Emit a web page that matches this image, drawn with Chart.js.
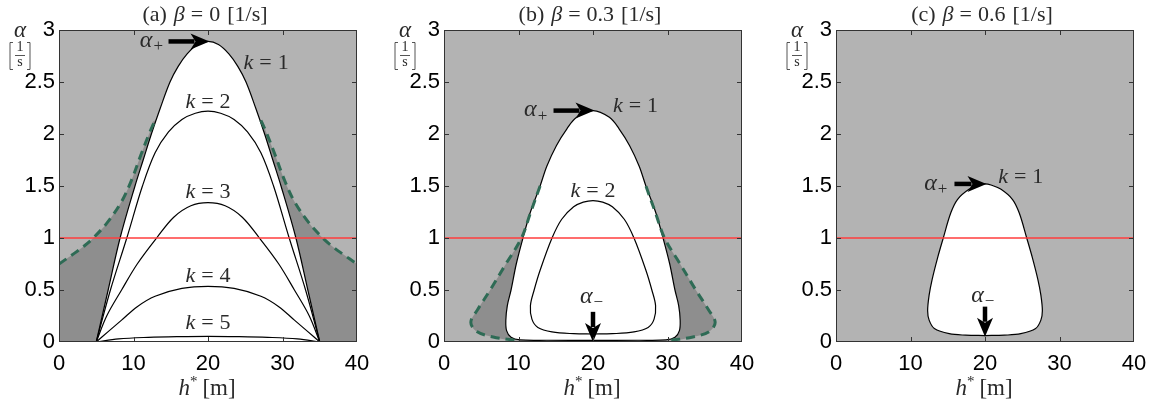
<!DOCTYPE html>
<html lang="en">
<head>
  <meta charset="UTF-8" />
  <title>Stability regions</title>
  <script src="https://cdn.jsdelivr.net/npm/chart.js"></script>
  <style>
    body { margin: 0; background: #fff; width: 1164px; height: 406px; overflow: hidden; position: relative; }
    canvas { position: absolute; top: 0; }
  </style>
</head>
<body>
  <canvas id="chartA" width="390" height="406" style="left:0px"></canvas>
  <canvas id="chartB" width="390" height="406" style="left:385px"></canvas>
  <canvas id="chartC" width="390" height="406" style="left:777px"></canvas>
  <script>
    // axes
    const xTicks = [0, 10, 20, 30, 40];
    const yTicks = [0, 0.5, 1, 1.5, 2, 2.5, 3];
    const yTickLabels = ['0', '0.5', '1', '1.5', '2', '2.5', '3'];
    const refLine = [[0, 1], [40, 1]];

    // (a) beta = 0, curves [h*, alpha]
    const a_k1 = [[5,0],[6.6,0.5],[8.2,1.0],[10.2,1.5],[11.3,1.75],[12.4,2.0],[13.6,2.25],[14.9,2.5],[16.0,2.65],[17.2,2.77],[18.6,2.86],[20,2.89],
                  [21.4,2.86],[22.8,2.77],[24.0,2.65],[25.1,2.5],[26.4,2.25],[27.6,2.0],[28.7,1.75],[29.8,1.5],[31.8,1.0],[33.4,0.5],[35,0]];
    const a_k2 = [[5,0],[6.9,0.5],[9.1,1.0],[11.2,1.5],[12.9,1.82],[14.7,2.02],[16.5,2.14],[18.3,2.2],[20,2.22],
                  [21.7,2.2],[23.5,2.14],[25.3,2.02],[27.1,1.82],[28.8,1.5],[30.9,1.0],[33.1,0.5],[35,0]];
    const a_k3 = [[5,0],[6.4,0.25],[8.4,0.5],[10.5,0.75],[13.1,1.0],[15.4,1.2],[17.7,1.31],[20,1.34],
                  [22.3,1.31],[24.6,1.2],[26.9,1.0],[29.5,0.75],[31.6,0.5],[33.6,0.25],[35,0]];
    const a_k4 = [[5,0],[6.6,0.1],[8.4,0.21],[10.5,0.34],[12.9,0.44],[16.5,0.515],[20,0.535],
                  [23.5,0.515],[27.1,0.44],[29.5,0.34],[31.6,0.21],[33.4,0.1],[35,0]];
    const a_k5 = [[5,0],[8,0.03],[12,0.045],[16,0.052],[20,0.055],[24,0.052],[28,0.045],[32,0.03],[35,0]];
    const a_dashLeft = [[0,0.75],[2,0.85],[3.5,0.93],[4.6,1.0],[6.5,1.15],[8.4,1.35],[9.7,1.55],[11.0,1.8],[12.2,2.02],[12.9,2.13]];
    const a_dashRight = [[27.1,2.13],[27.8,2.02],[29.0,1.8],[30.3,1.55],[31.6,1.35],[33.5,1.15],[35.4,1.0],[36.5,0.93],[38,0.85],[40,0.75]];

    // (b) beta = 0.3
    const b_k1 = [[20,0.015],[14,0.017],[10.2,0.02],[9.0,0.045],[8.4,0.11],[8.3,0.21],[8.5,0.35],[9.0,0.5],[9.7,0.75],[10.6,1.0],[11.6,1.25],[12.9,1.5],
                  [13.8,1.69],[15.1,1.89],[16.5,2.05],[17.8,2.16],[20,2.225],[22.2,2.16],[23.5,2.05],[24.9,1.89],[26.2,1.69],[27.1,1.5],
                  [28.4,1.25],[29.4,1.0],[30.3,0.75],[31.0,0.5],[31.5,0.35],[31.7,0.21],[31.6,0.11],[31.0,0.045],[29.8,0.02],[26,0.017],[20,0.015]];
    const b_k2 = [[20,0.077],[17.4,0.08],[14.5,0.097],[12.6,0.14],[11.8,0.22],[11.6,0.35],[12.1,0.5],[12.9,0.69],[14.5,1.0],[15.8,1.18],[17.4,1.3],[18.7,1.345],[20,1.36],
                  [21.3,1.345],[22.6,1.3],[24.2,1.18],[25.5,1.0],[27.1,0.69],[27.9,0.5],[28.4,0.35],[28.2,0.22],[27.4,0.14],[25.5,0.097],[22.6,0.08],[20,0.077]];
    const b_dashLeft = [[12.9,1.5],[11.6,1.24],[10.4,1.0],[8.3,0.75],[6.2,0.5],[4.5,0.31],[3.6,0.19],[4.4,0.1],[6.6,0.048],[9.5,0.016]];
    const b_dashRight = [[30.5,0.016],[33.4,0.048],[35.6,0.1],[36.4,0.19],[35.5,0.31],[33.8,0.5],[31.7,0.75],[29.6,1.0],[28.4,1.24],[27.1,1.5]];

    // (c) beta = 0.6
    const c_k1 = [[20,0.062],[17.4,0.066],[15.2,0.08],[13.2,0.13],[12.5,0.21],[12.3,0.3],[12.5,0.45],[12.9,0.6],[13.6,0.8],[14.4,1.0],[15.4,1.24],[16.3,1.37],[17.9,1.47],[19.2,1.51],[20,1.52],
                  [20.8,1.51],[22.1,1.47],[23.7,1.37],[24.6,1.24],[25.6,1.0],[26.4,0.8],[27.1,0.6],[27.5,0.45],[27.7,0.3],[27.5,0.21],[26.8,0.13],[24.8,0.08],[22.6,0.066],[20,0.062]];

    // arrows [from, to] and text labels [h*, alpha]
    const a_arrows = [[[14.7, 2.89], [20.2, 2.89]]];
    const b_arrows = [[[14.7, 2.225], [20.2, 2.225]], [[20, 0.29], [20, 0.0]]];
    const c_arrows = [[[15.9, 1.52], [20.2, 1.52]], [[20, 0.34], [20, 0.05]]];
    const a_kLabels = [['1', 27.8, 2.68], ['2', 20, 2.31], ['3', 20, 1.44], ['4', 20, 0.63], ['5', 20, 0.18]];
    const b_kLabels = [['1', 25.7, 2.27], ['2', 20, 1.45]];
    const c_kLabels = [['1', 24.8, 1.58]];
    const a_alphaLabels = [['+', 12.4, 2.9]];
    const b_alphaLabels = [['+', 12.3, 2.23], ['\u2212', 19.8, 0.44]];
    const c_alphaLabels = [['+', 13.4, 1.52], ['\u2212', 19.7, 0.45]];

    const LIGHT = '#b3b3b3', DARK = '#8e8e8e', GREEN = '#2e6b55', TXT = '#2a2a2a';
    const SERIF = '"Liberation Serif", "DejaVu Serif", serif';
    const SANS = '"Liberation Sans", Arial, sans-serif';

    function pts(list) { return list.map(p => ({ x: p[0], y: p[1] })); }

    // parts: [text, font, dy] or a number (gap in px)
    function richText(ctx, parts, x, y) {
      let w = 0;
      parts.forEach(p => {
        if (typeof p === 'number') { w += p; return; }
        ctx.font = p[1]; w += ctx.measureText(p[0]).width;
      });
      let cx = x - w / 2;
      parts.forEach(p => {
        if (typeof p === 'number') { cx += p; return; }
        ctx.font = p[1];
        ctx.fillText(p[0], cx, y + (p[2] || 0));
        cx += ctx.measureText(p[0]).width;
      });
    }

    const panelPlugin = {
      id: 'panel',
      beforeDatasetsDraw(chart) {
        const { ctx, chartArea: a } = chart;
        ctx.save();
        ctx.fillStyle = LIGHT;
        ctx.fillRect(a.left, a.top, a.right - a.left, a.bottom - a.top);
        ctx.restore();
      },
      afterDatasetsDraw(chart, args, opts) {
        const { ctx, scales: { x, y } } = chart;
        ctx.save();
        // arrows
        ctx.fillStyle = '#000';
        ctx.strokeStyle = '#000';
        (opts.arrows || []).forEach(([p0, p1]) => {
          const x0 = x.getPixelForValue(p0[0]), y0 = y.getPixelForValue(p0[1]);
          const x1 = x.getPixelForValue(p1[0]), y1 = y.getPixelForValue(p1[1]);
          const ang = Math.atan2(y1 - y0, x1 - x0);
          const hl = 19, hw = 8;
          const bx = x1 - Math.cos(ang) * hl, by = y1 - Math.sin(ang) * hl;
          ctx.lineWidth = 4.5;
          ctx.beginPath();
          ctx.moveTo(x0, y0);
          ctx.lineTo(bx + Math.cos(ang) * 4, by + Math.sin(ang) * 4);
          ctx.stroke();
          ctx.beginPath();
          ctx.moveTo(x1, y1);
          ctx.lineTo(bx - Math.sin(ang) * hw, by + Math.cos(ang) * hw);
          ctx.lineTo(bx + Math.cos(ang) * 5, by + Math.sin(ang) * 5);
          ctx.lineTo(bx + Math.sin(ang) * hw, by - Math.cos(ang) * hw);
          ctx.closePath();
          ctx.fill();
        });
        // labels
        ctx.fillStyle = TXT;
        ctx.textBaseline = 'middle';
        (opts.kLabels || []).forEach(([n, h, v]) => {
          richText(ctx, [['k', 'italic 22px ' + SERIF], 6, ['=', '22px ' + SERIF], 6, [n, '22px ' + SERIF]],
            x.getPixelForValue(h), y.getPixelForValue(v));
        });
        (opts.alphaLabels || []).forEach(([s, h, v]) => {
          richText(ctx, [['\u03b1', 'italic 24px ' + SERIF], 1, [s, '17px ' + SERIF, 6]],
            x.getPixelForValue(h), y.getPixelForValue(v));
        });
        ctx.restore();
      },
      afterDraw(chart, args, opts) {
        const { ctx, chartArea: a, scales: { x, y } } = chart;
        ctx.save();
        // frame with inward ticks
        ctx.strokeStyle = '#333';
        ctx.lineWidth = 1;
        ctx.strokeRect(a.left + 0.5, a.top + 0.5, a.right - a.left - 1, a.bottom - a.top - 1);
        ctx.beginPath();
        xTicks.slice(1, -1).forEach(v => {
          const px = Math.round(x.getPixelForValue(v)) + 0.5;
          ctx.moveTo(px, a.bottom); ctx.lineTo(px, a.bottom - 5);
          ctx.moveTo(px, a.top); ctx.lineTo(px, a.top + 5);
        });
        yTicks.slice(1, -1).forEach(v => {
          const py = Math.round(y.getPixelForValue(v)) + 0.5;
          ctx.moveTo(a.left, py); ctx.lineTo(a.left + 5, py);
          ctx.moveTo(a.right, py); ctx.lineTo(a.right - 5, py);
        });
        ctx.stroke();
        // title
        const cx = (a.left + a.right) / 2;
        ctx.fillStyle = TXT;
        ctx.textBaseline = 'alphabetic';
        richText(ctx, [['(' + opts.tag + ')', '22px ' + SERIF], 7, ['\u03b2', 'italic 22px ' + SERIF], 6,
          ['=', '22px ' + SERIF], 6, [opts.beta, '22px ' + SERIF], 7, ['[1/s]', '22px ' + SERIF]], cx - 3, 21);
        // x axis label
        richText(ctx, [['h', 'italic 23px ' + SERIF], ['*', '15px ' + SERIF, -9], 5, ['[m]', '23px ' + SERIF]], cx - 1, 395);
        // y axis label: alpha over [1/s]
        const lx = a.left - 39;
        richText(ctx, [['\u03b1', 'italic 23px ' + SERIF]], lx, 37);
        ctx.font = '14px ' + SERIF;
        ctx.textAlign = 'center';
        ctx.fillText('1', lx, 51);
        ctx.fillText('s', lx, 66);
        ctx.textAlign = 'left';
        ctx.beginPath();
        ctx.lineWidth = 0.8;
        ctx.moveTo(lx - 5, 55.5); ctx.lineTo(lx + 5, 55.5);
        // brackets
        [[lx - 10, 1], [lx + 10, -1]].forEach(([bx, d]) => {
          ctx.moveTo(bx + 3 * d, 42.5); ctx.lineTo(bx, 42.5); ctx.lineTo(bx, 69.5); ctx.lineTo(bx + 3 * d, 69.5);
        });
        ctx.strokeStyle = TXT;
        ctx.stroke();
        ctx.restore();
      }
    };

    function curve(list, extra) {
      return Object.assign({ data: pts(list), borderColor: '#000', borderWidth: 1.2, fill: false, tension: 0.35 }, extra);
    }
    function dark(list, fillMode) {
      return { data: pts(list), borderWidth: 0, borderColor: 'rgba(0,0,0,0)', backgroundColor: DARK, fill: fillMode, tension: 0.35, order: 20 };
    }
    function dashed(list) {
      return curve(list, { borderColor: GREEN, borderWidth: 3, borderDash: [9, 6], order: 6 });
    }
    function redLine() {
      return curve(refLine, { borderColor: '#ff3c3c', borderWidth: 1.5, tension: 0, order: 1 });
    }

    function makeChart(id, datasets, panel) {
      return new Chart(document.getElementById(id), {
        type: 'line',
        data: { datasets },
        options: {
          responsive: false,
          animation: false,
          events: [],
          layout: { padding: { top: 30, right: 33, left: 0, bottom: 0 } },
          elements: { point: { radius: 0 } },
          plugins: { legend: { display: false }, tooltip: { enabled: false }, panel },
          scales: {
            x: {
              type: 'linear', min: 0, max: 40,
              grid: { display: false, drawTicks: false }, border: { display: false },
              afterBuildTicks: s => { s.ticks = xTicks.map(v => ({ value: v })); },
              afterFit: s => { s.height = 64; },
              ticks: { padding: 9, color: '#000', font: { family: SANS, size: 22 }, callback: v => String(v) }
            },
            y: {
              type: 'linear', min: 0, max: 3,
              grid: { display: false, drawTicks: false }, border: { display: false },
              afterBuildTicks: s => { s.ticks = yTicks.map(v => ({ value: v })); },
              afterFit: s => { s.width = 59; },
              ticks: { padding: 4, color: '#000', font: { family: SANS, size: 22 },
                       callback: v => yTickLabels[yTicks.indexOf(v)] }
            }
          }
        },
        plugins: [panelPlugin]
      });
    }

    makeChart('chartA', [
      dark(a_dashLeft.concat(a_dashRight), 'origin'),
      curve(a_k1, { backgroundColor: '#fff', fill: 'origin', order: 10 }),
      dashed(a_dashLeft), dashed(a_dashRight),
      curve(a_k2, { order: 5 }), curve(a_k3, { order: 5 }), curve(a_k4, { order: 5 }), curve(a_k5, { order: 5 }),
      redLine()
    ], { tag: 'a', beta: '0', arrows: a_arrows, kLabels: a_kLabels, alphaLabels: a_alphaLabels });

    makeChart('chartB', [
      dark(b_dashLeft.concat(b_dashRight), 'shape'),
      curve(b_k1, { backgroundColor: '#fff', fill: 'shape', order: 10 }),
      dashed(b_dashLeft), dashed(b_dashRight),
      curve(b_k2, { order: 5 }),
      redLine()
    ], { tag: 'b', beta: '0.3', arrows: b_arrows, kLabels: b_kLabels, alphaLabels: b_alphaLabels });

    makeChart('chartC', [
      curve(c_k1, { backgroundColor: '#fff', fill: 'shape', order: 10 }),
      redLine()
    ], { tag: 'c', beta: '0.6', arrows: c_arrows, kLabels: c_kLabels, alphaLabels: c_alphaLabels });
  </script>
</body>
</html>
